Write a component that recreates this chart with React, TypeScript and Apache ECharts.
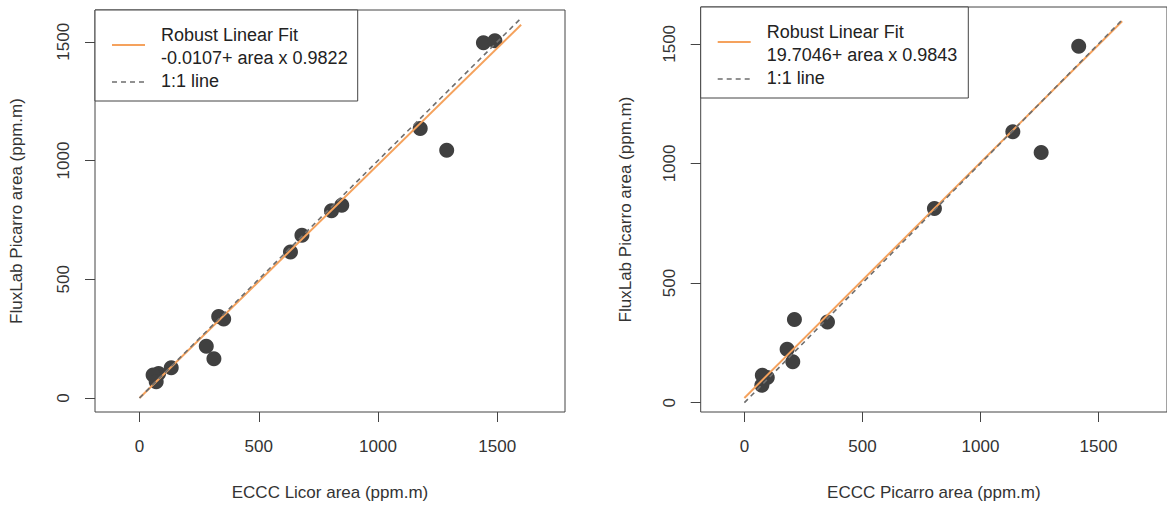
import React, { useEffect, useRef } from "react";
import * as echarts from "echarts";

// Left panel: ECCC Licor vs FluxLab Picarro
const leftX = [848, 805, 681, 633, 332, 353, 280, 312, 133, 80, 57, 70, 1442, 1490, 1177, 1288];
const leftY = [812, 789, 685, 615, 343, 333, 218, 165, 127, 103, 97, 68, 1496, 1504, 1135, 1043];
// Right panel: ECCC Picarro vs FluxLab Picarro
const rightX = [805, 212, 352, 181, 205, 76, 97, 74, 1416, 1137, 1257];
const rightY = [812, 348, 337, 223, 171, 115, 105, 73, 1490, 1133, 1046];

const tickValues = [0, 500, 1000, 1500];
const lineX = [0, 1600];
const leftFit = { intercept: -0.0107, slope: 0.9822 };
const rightFit = { intercept: 19.7046, slope: 0.9843 };
const leftLegendLines = ["Robust Linear Fit", "-0.0107+ area x 0.9822", "1:1 line"];
const rightLegendLines = ["Robust Linear Fit", "19.7046+ area x 0.9843", "1:1 line"];
const xTitles = ["ECCC Licor area (ppm.m)", "ECCC Picarro area (ppm.m)"];
const yTitle = "FluxLab Picarro area (ppm.m)";

const FONT = '"Liberation Sans", Arial, sans-serif';
const ORANGE = "#F5A25D";
const DASH = "#6e6e6e";
const POINT = "#404040";
const AXIS = "#444";

export default function App() {
  const ref = useRef<HTMLDivElement>(null);
  useEffect(() => {
    document.body.style.margin = "0";
    if (!ref.current) return;
    const chart = echarts.init(ref.current, null, { renderer: "svg" });

    const grids = [
      { left: 95, top: 10, width: 470, height: 403 },
      { left: 700.7, top: 7, width: 473, height: 406.3 },
    ];
    const xr = [
      [-186.6, 1784],
      [-185, 1790],
    ];
    const yr = [
      [-59, 1634],
      [-39, 1654],
    ];
    const fmt = (v: number) => String(v);

    const mkX = (i: number) => ({
      type: "value",
      gridIndex: i,
      min: xr[i][0],
      max: xr[i][1],
      axisLine: { show: false, onZero: false },
      splitLine: { show: false },
      axisTick: { show: true, length: 10, customValues: tickValues, lineStyle: { color: AXIS } },
      axisLabel: { customValues: tickValues, formatter: fmt, margin: 26, fontSize: 17, fontFamily: FONT, color: "#333" },
      name: xTitles[i],
      nameLocation: "middle",
      nameGap: 72,
      nameTextStyle: { fontSize: 17, fontFamily: FONT, color: "#333" },
    });
    const mkY = (i: number) => ({
      type: "value",
      gridIndex: i,
      min: yr[i][0],
      max: yr[i][1],
      axisLine: { show: false, onZero: false },
      splitLine: { show: false },
      axisTick: { show: true, length: 10, customValues: tickValues, lineStyle: { color: AXIS } },
      axisLabel: { customValues: tickValues, formatter: fmt, rotate: 90, margin: 23, fontSize: 17, fontFamily: FONT, color: "#333" },
      name: yTitle,
      nameLocation: "middle",
      nameRotate: 90,
      nameGap: i === 0 ? 70 : 67,
      nameTextStyle: { fontSize: 17, fontFamily: FONT, color: "#333" },
    });

    const pts = (xs: number[], ys: number[]) => xs.map((x, k) => [x, ys[k]]);
    const fitLine = (f: { intercept: number; slope: number }) =>
      lineX.map((x) => [x, f.intercept + f.slope * x]);
    const oneLine = lineX.map((x) => [x, x]);

    const series: any[] = [];
    [
      [leftX, leftY, leftFit],
      [rightX, rightY, rightFit],
    ].forEach(([xs, ys, f]: any, i) => {
      series.push({
        type: "scatter",
        xAxisIndex: i,
        yAxisIndex: i,
        data: pts(xs, ys),
        symbolSize: 15,
        itemStyle: { color: POINT, opacity: 1 },
        z: 2,
      });
      series.push({
        type: "line",
        xAxisIndex: i,
        yAxisIndex: i,
        data: fitLine(f),
        symbol: "none",
        lineStyle: { color: ORANGE, width: 2 },
        z: 3,
      });
      series.push({
        type: "line",
        xAxisIndex: i,
        yAxisIndex: i,
        data: oneLine,
        symbol: "none",
        lineStyle: { color: DASH, width: 1.6, type: [5, 4] },
        z: 4,
      });
    });

    const legend = (gx: number, gy: number, w: number, lines: string[], textDx: number) => {
      const h = 91;
      const els: any[] = [
        {
          type: "rect",
          shape: { x: gx, y: gy, width: w, height: h },
          style: { fill: "#fff", stroke: AXIS, lineWidth: 1 },
          z: 100,
        },
        {
          type: "line",
          shape: { x1: gx + 17, y1: gy + 35, x2: gx + 50, y2: gy + 35 },
          style: { stroke: ORANGE, lineWidth: 2 },
          z: 101,
        },
        {
          type: "line",
          shape: { x1: gx + 17, y1: gy + 72, x2: gx + 50, y2: gy + 72 },
          style: { stroke: DASH, lineWidth: 1.6, lineDash: [5, 4] },
          z: 101,
        },
      ];
      lines.forEach((t, k) => {
        els.push({
          type: "text",
          x: gx + textDx,
          y: gy + 25 + k * 23,
          style: {
            text: t,
            fontSize: 18,
            fontFamily: FONT,
            fill: "#222",
            verticalAlign: "middle",
            align: "left",
          },
          z: 102,
        });
      });
      return els;
    };

    chart.setOption({
      animation: false,
      backgroundColor: "#fff",
      grid: grids.map((g) => ({ ...g, show: true, borderColor: AXIS, borderWidth: 1, backgroundColor: "transparent" })),
      xAxis: [mkX(0), mkX(1)],
      yAxis: [mkY(0), mkY(1)],
      series,
      graphic: [
        ...legend(95, 10, 262.7, leftLegendLines, 66),
        ...legend(700.7, 7, 267.6, rightLegendLines, 66),
      ],
    });
    return () => chart.dispose();
  }, []);
  return <div ref={ref} style={{ width: 1167, height: 506 }} />;
}
